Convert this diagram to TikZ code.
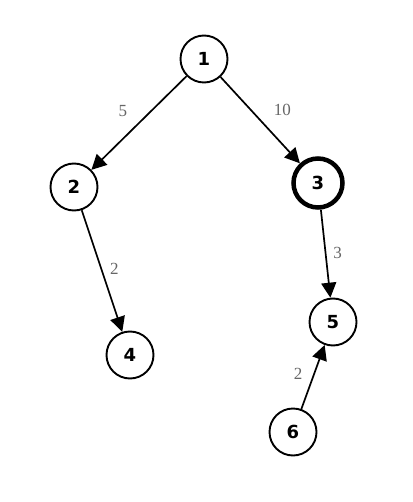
\documentclass[tikz,border=0pt]{standalone}
\usepackage{fontspec}
\setmainfont{Liberation Serif}
\newfontfamily\nodefont{DejaVu Sans}
\usetikzlibrary{arrows.meta}

\begin{document}
\begin{tikzpicture}[x=1pt,y=-1pt,
  vertex/.style={circle, draw, line width=1.9pt, minimum size=47pt, inner sep=0pt, font=\fontsize{18pt}{18pt}\nodefont\bfseries},
  marked/.style={vertex, line width=4.5pt, minimum size=49pt},
  link/.style={line width=1.7pt, -{Triangle[length=15pt, width=15pt]}},
  weight/.style={text=black!60, font=\fontsize{17pt}{17pt}\selectfont, inner sep=0pt}]
\useasboundingbox (0,0) rectangle (412,502);
% Vertices
\node[vertex] (v1) at (204, 59) {1};
\node[vertex] (v2) at (74, 187) {2};
\node[marked] (v3) at (318, 183) {3};
\node[vertex] (v4) at (130, 355) {4};
\node[vertex] (v5) at (333, 322) {5};
\node[vertex] (v6) at (293, 432) {6};
% Weighted edges
\draw[link] (v1) -- node[weight, pos=0.375, xshift=-28pt] {5} (v2);
\draw[link] (v1) -- node[weight, pos=0.387, xshift=31pt] {10} (v3);
\draw[link] (v2) -- node[weight, pos=0.482, xshift=13pt] {2} (v4);
\draw[link] (v3) -- node[weight, pos=0.496, xshift=12pt] {3} (v5);
\draw[link] (v6) -- node[weight, pos=0.545, xshift=-16pt] {2} (v5);
\end{tikzpicture}
\end{document}
